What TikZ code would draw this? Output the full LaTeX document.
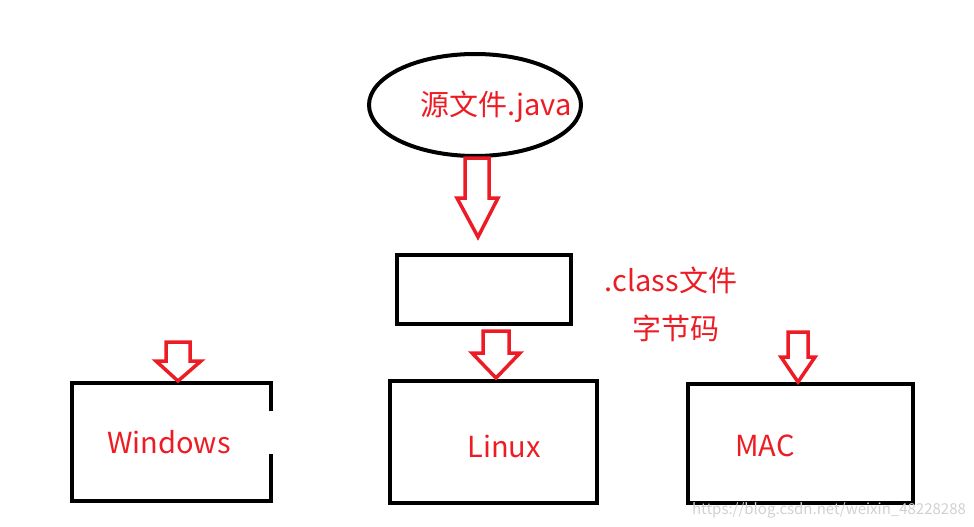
\documentclass[tikz,border=0pt]{standalone}
\usepackage{fontspec}
\setmainfont{Noto Sans CJK SC}
\usetikzlibrary{shapes.geometric}
\definecolor{pred}{HTML}{ED1C24}
\tikzset{
  blk/.style={draw=black,line width=4pt},
  lbl/.style={text=pred,font=\fontsize{29}{33}\selectfont,inner sep=0pt},
  barrow/.style={draw=pred,line width=3.5pt,line join=miter},
  hole/.style={inner sep=0pt,draw=none}
}
\begin{document}
\begin{tikzpicture}[x=1pt,y=-1pt]
\useasboundingbox (0,0) rectangle (974,527);
% source ellipse
\node[ellipse,blk,minimum width=212pt,minimum height=102pt] (src) at (475,105) {};
\node[lbl] (srct) at (496,107) {源文件.java};
% class box
\node[hole,blk,minimum width=174pt,minimum height=69pt] (cls) at (484,289.5) {};
\node[lbl] (clst) at (671,280) {.class文件};
\node[lbl] (bytec) at (676,328) {字节码};
% platform boxes
\node[hole,minimum width=199pt,minimum height=118pt] (win) at (171.5,442) {};
\draw[blk,line cap=rect] ([yshift=-26pt]win.north east) -- (win.north east) -- (win.north west) -- (win.south west) -- (win.south east) -- ([yshift=45pt]win.south east);
\node[lbl] (wint) at (169,442) {Windows};
\node[hole,blk,minimum width=207pt,minimum height=122pt] (lin) at (493.5,442) {};
\node[lbl] (lint) at (504,446) {Linux};
\node[hole,blk,minimum width=225pt,minimum height=119pt] (mac) at (800.5,443.5) {};
\node[lbl] (mact) at (765,446) {MAC};
% block arrows
\coordinate (a1) at (477,158);
\draw[barrow] (465,158) -- (489,158) -- (489,198) -- (498,198) -- (478,237) -- (457,198) -- (465,198) -- cycle;
\coordinate (a2) at (178,342);
\draw[barrow] (166,342) -- (190,342) -- (190,361) -- (201,361) -- (178,381) -- (156,361) -- (166,361) -- cycle;
\coordinate (a3) at (496,331);
\draw[barrow] (483,331) -- (509,331) -- (509,353) -- (520,353) -- (496,378) -- (472,353) -- (483,353) -- cycle;
\coordinate (a4) at (798,332);
\draw[barrow] (788,332) -- (808,332) -- (808,357) -- (815,357) -- (798,382) -- (781,357) -- (788,357) -- cycle;
% watermark
\node[text=black!18,font=\fontsize{15}{17}\selectfont,inner sep=0pt] (wm) at (829,510) {https://blog.csdn.net/weixin\_48228288};
\end{tikzpicture}
\end{document}
